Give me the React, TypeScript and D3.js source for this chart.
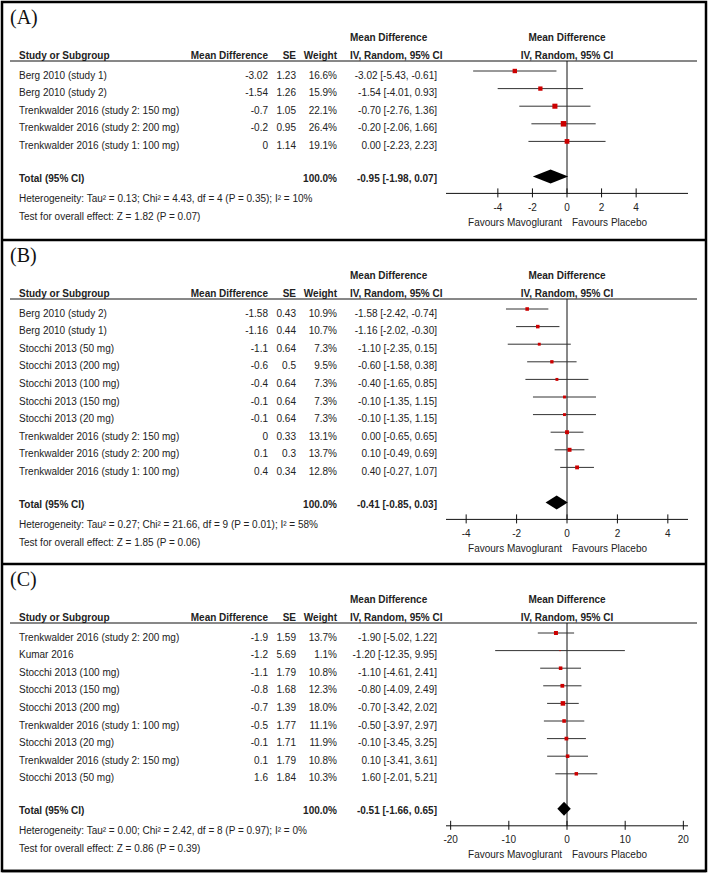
import React from "react";
import * as d3 from "d3";

// ---------- Panel A ----------
const studiesA = [
  "Berg 2010 (study 1)",
  "Berg 2010 (study 2)",
  "Trenkwalder 2016 (study 2: 150 mg)",
  "Trenkwalder 2016 (study 2: 200 mg)",
  "Trenkwalder 2016 (study 1: 100 mg)",
];
const mdA = [-3.02, -1.54, -0.7, -0.2, 0];
const seA = [1.23, 1.26, 1.05, 0.95, 1.14];
const weightA = [16.6, 15.9, 22.1, 26.4, 19.1];
const loA = [-5.43, -4.01, -2.76, -2.06, -2.23];
const hiA = [-0.61, 0.93, 1.36, 1.66, 2.23];
const totalA = [-0.95, -1.98, 0.07];
const hetA = "Heterogeneity: Tau\u00B2 = 0.13; Chi\u00B2 = 4.43, df = 4 (P = 0.35); I\u00B2 = 10%";
const testA = "Test for overall effect: Z = 1.82 (P = 0.07)";
const ticksA = [-4, -2, 0, 2, 4];

// ---------- Panel B ----------
const studiesB = [
  "Berg 2010 (study 2)",
  "Berg 2010 (study 1)",
  "Stocchi 2013 (50 mg)",
  "Stocchi 2013 (200 mg)",
  "Stocchi 2013 (100 mg)",
  "Stocchi 2013 (150 mg)",
  "Stocchi 2013 (20 mg)",
  "Trenkwalder 2016 (study 2: 150 mg)",
  "Trenkwalder 2016 (study 2: 200 mg)",
  "Trenkwalder 2016 (study 1: 100 mg)",
];
const mdB = [-1.58, -1.16, -1.1, -0.6, -0.4, -0.1, -0.1, 0, 0.1, 0.4];
const seB = [0.43, 0.44, 0.64, 0.5, 0.64, 0.64, 0.64, 0.33, 0.3, 0.34];
const weightB = [10.9, 10.7, 7.3, 9.5, 7.3, 7.3, 7.3, 13.1, 13.7, 12.8];
const loB = [-2.42, -2.02, -2.35, -1.58, -1.65, -1.35, -1.35, -0.65, -0.49, -0.27];
const hiB = [-0.74, -0.3, 0.15, 0.38, 0.85, 1.15, 1.15, 0.65, 0.69, 1.07];
const totalB = [-0.41, -0.85, 0.03];
const hetB = "Heterogeneity: Tau\u00B2 = 0.27; Chi\u00B2 = 21.66, df = 9 (P = 0.01); I\u00B2 = 58%";
const testB = "Test for overall effect: Z = 1.85 (P = 0.06)";
const ticksB = [-4, -2, 0, 2, 4];

// ---------- Panel C ----------
const studiesC = [
  "Trenkwalder 2016 (study 2: 200 mg)",
  "Kumar 2016",
  "Stocchi 2013 (100 mg)",
  "Stocchi 2013 (150 mg)",
  "Stocchi 2013 (200 mg)",
  "Trenkwalder 2016 (study 1: 100 mg)",
  "Stocchi 2013 (20 mg)",
  "Trenkwalder 2016 (study 2: 150 mg)",
  "Stocchi 2013 (50 mg)",
];
const mdC = [-1.9, -1.2, -1.1, -0.8, -0.7, -0.5, -0.1, 0.1, 1.6];
const seC = [1.59, 5.69, 1.79, 1.68, 1.39, 1.77, 1.71, 1.79, 1.84];
const weightC = [13.7, 1.1, 10.8, 12.3, 18.0, 11.1, 11.9, 10.8, 10.3];
const loC = [-5.02, -12.35, -4.61, -4.09, -3.42, -3.97, -3.45, -3.41, -2.01];
const hiC = [1.22, 9.95, 2.41, 2.49, 2.02, 2.97, 3.25, 3.61, 5.21];
const totalC = [-0.51, -1.66, 0.65];
const hetC = "Heterogeneity: Tau\u00B2 = 0.00; Chi\u00B2 = 2.42, df = 8 (P = 0.97); I\u00B2 = 0%";
const testC = "Test for overall effect: Z = 0.86 (P = 0.39)";
const ticksC = [-20, -10, 0, 10, 20];

const FONT = "'Liberation Sans', Arial, Helvetica, sans-serif";
const SERIF = "'Liberation Serif', 'Times New Roman', serif";
const TXT = "#222";
const RED = "#cc0000";

const W = 708;
const H = 874;
const locale = d3.formatLocale({
  decimal: ".",
  thousands: ",",
  grouping: [3],
  currency: ["", ""],
  minus: "-",
});
const f2 = locale.format(".2f");
const f1 = locale.format(".1f");
const fmtCI = (m: number, l: number, h: number) => `${f2(m)} [${f2(l)}, ${f2(h)}]`;

const sizeScale = d3.scaleSqrt().domain([0, 30]).range([0, 5.9]);

type PanelProps = {
  top: number;
  bottom: number;
  label: string;
  studies: string[];
  md: number[];
  se: number[];
  weight: number[];
  lo: number[];
  hi: number[];
  total: number[];
  het: string;
  test: string;
  domainMax: number;
  ticks: number[];
};

function Panel(p: PanelProps) {
  const { top } = p;
  const x = d3.scaleLinear().domain([-p.domainMax, p.domainMax]).range([446, 688]);
  const step = 17.6;
  const rowY = (i: number) => top + 73 + i * step;
  const n = p.studies.length;
  const totalY = rowY(n - 1) + 33;
  const axisY = totalY + 15;
  const underY = top + 59;
  const fs = 10;
  const base = 3.6;
  const cx0 = x(0);
  const dY = totalY - 2;
  const diamond = d3.line()([
    [x(p.total[1]), dY],
    [x(p.total[0]), dY - 7],
    [x(p.total[2]), dY],
    [x(p.total[0]), dY + 7],
  ]) + "Z";
  return (
    <g fontFamily={FONT} fontSize={fs} fill={TXT}>
      <text x={10} y={top + 21.5} fontFamily={SERIF} fontSize={20} fill="#111">
        {p.label}
      </text>
      {/* headers */}
      <g fontWeight="bold">
        <text x={350} y={top + 35 + base}>Mean Difference</text>
        <text x={cx0} y={top + 35 + base} textAnchor="middle">Mean Difference</text>
        <text x={19} y={top + 53 + base}>Study or Subgroup</text>
        <text x={268} y={top + 53 + base} textAnchor="end">Mean Difference</text>
        <text x={296} y={top + 53 + base} textAnchor="end">SE</text>
        <text x={337} y={top + 53 + base} textAnchor="end">Weight</text>
        <text x={350} y={top + 53 + base}>IV, Random, 95% CI</text>
        <text x={cx0} y={top + 53 + base} textAnchor="middle">IV, Random, 95% CI</text>
      </g>
      <line x1={10} x2={697} y1={underY} y2={underY} stroke="#111" strokeWidth={1} />
      {/* zero line */}
      <line x1={cx0} x2={cx0} y1={underY} y2={axisY} stroke="#111" strokeWidth={1} />
      {p.studies.map((s, i) => {
        const y = rowY(i);
        const my = y - 4;
        const sz = sizeScale(p.weight[i]);
        return (
          <g key={s + i}>
            <text x={19} y={y + base}>{s}</text>
            <text x={268} y={y + base} textAnchor="end">{String(p.md[i])}</text>
            <text x={296} y={y + base} textAnchor="end">{String(p.se[i])}</text>
            <text x={337} y={y + base} textAnchor="end">{f1(p.weight[i]) + "%"}</text>
            <text x={437} y={y + base} textAnchor="end">{fmtCI(p.md[i], p.lo[i], p.hi[i])}</text>
            <line x1={x(p.lo[i])} x2={x(p.hi[i])} y1={my} y2={my} stroke="#333" strokeWidth={1} />
            <rect x={x(p.md[i]) - sz / 2} y={my - sz / 2} width={sz} height={sz} fill={RED} />
          </g>
        );
      })}
      {/* total */}
      <g fontWeight="bold">
        <text x={19} y={totalY + base}>Total (95% CI)</text>
        <text x={337} y={totalY + base} textAnchor="end">100.0%</text>
        <text x={437} y={totalY + base} textAnchor="end">{fmtCI(p.total[0], p.total[1], p.total[2])}</text>
      </g>
      <path d={diamond} fill="#000" />
      <text x={19} y={totalY + 20 + base}>{p.het}</text>
      <text x={19} y={totalY + 38 + base}>{p.test}</text>
      {/* axis */}
      <line x1={x.range()[0]} x2={x.range()[1]} y1={axisY} y2={axisY} stroke="#111" strokeWidth={1} />
      {p.ticks.map((t) => (
        <g key={t}>
          <line x1={x(t)} x2={x(t)} y1={axisY - 5} y2={axisY + 4} stroke="#111" strokeWidth={1} />
          <text x={x(t)} y={axisY + 14 + base} textAnchor="middle">{String(t)}</text>
        </g>
      ))}
      <text x={cx0 - 5} y={totalY + 43.5 + base} textAnchor="end">Favours Mavoglurant</text>
      <text x={cx0 + 5} y={totalY + 43.5 + base}>Favours Placebo</text>
      <line x1={2} x2={706} y1={p.bottom} y2={p.bottom} stroke="#000" strokeWidth={2.5} />
    </g>
  );
}

export default function App() {
  return (
    <svg
      width={W}
      height={H}
      viewBox={`0 0 ${W} ${H}`}
      style={{ position: "absolute", left: 0, top: 0, background: "#fff" }}
    >
      <rect x={0} y={0} width={W} height={H} fill="#fff" />
      <Panel top={2} bottom={240} label="(A)" studies={studiesA} md={mdA} se={seA} weight={weightA}
        lo={loA} hi={hiA} total={totalA} het={hetA} test={testA} domainMax={7} ticks={ticksA} />
      <Panel top={240} bottom={564} label="(B)" studies={studiesB} md={mdB} se={seB} weight={weightB}
        lo={loB} hi={hiB} total={totalB} het={hetB} test={testB} domainMax={4.8} ticks={ticksB} />
      <Panel top={564} bottom={871} label="(C)" studies={studiesC} md={mdC} se={seC} weight={weightC}
        lo={loC} hi={hiC} total={totalC} het={hetC} test={testC} domainMax={20.8} ticks={ticksC} />
      <rect x={2} y={2} width={704} height={869} fill="none" stroke="#000" strokeWidth={2.5} />
    </svg>
  );
}
